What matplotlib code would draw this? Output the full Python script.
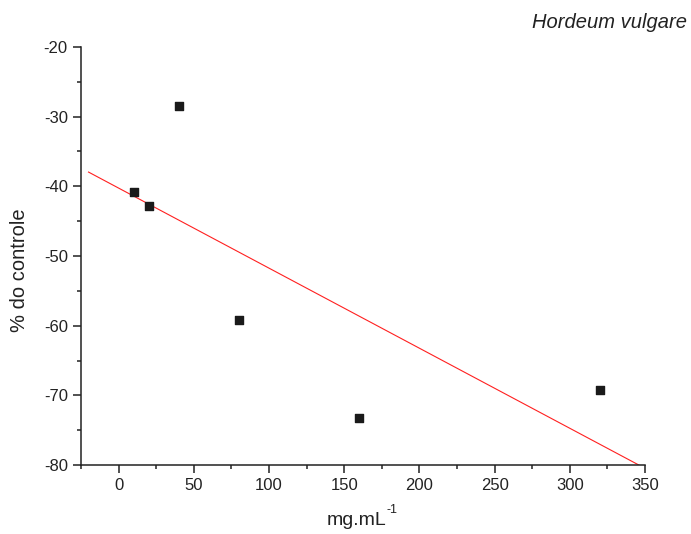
import numpy as np
import matplotlib
matplotlib.use("Agg")
import matplotlib.pyplot as plt
from matplotlib.ticker import MultipleLocator

plt.rcParams['font.family'] = ['Liberation Sans', 'DejaVu Sans']
plt.rcParams['axes.unicode_minus'] = False

conc = [10, 20, 40, 80, 160, 320]
pct_control = [-40.8, -42.8, -28.5, -59.2, -73.3, -69.3]
title = "Hordeum vulgare"
xlabel = "mg.mL"
xlabel_sup = "-1"
ylabel = "% do controle"

fig = plt.figure(figsize=(6.91, 5.34), dpi=100)
ax = fig.add_axes([0.1172, 0.1292, 0.8162, 0.7828])

slope, intercept = np.polyfit(conc, pct_control, 1)
xl = np.array([-20, 350])
ax.plot(xl, slope * xl + intercept, color='#ff2020', lw=0.8, zorder=2)
ax.scatter(conc, pct_control, marker='s', s=26, color='#1a1a1a', zorder=3)

ax.set_xlim(-25, 350)
ax.set_ylim(-80, -20)
ax.xaxis.set_major_locator(MultipleLocator(50))
ax.xaxis.set_minor_locator(MultipleLocator(25))
ax.yaxis.set_major_locator(MultipleLocator(10))
ax.yaxis.set_minor_locator(MultipleLocator(5))
for s in ['top', 'right']:
    ax.spines[s].set_visible(False)
for s in ['left', 'bottom']:
    ax.spines[s].set_linewidth(1.1)
    ax.spines[s].set_color('#222222')
ax.tick_params(which='major', direction='out', length=5.5, width=1.1, color='#222222',
               labelsize=12, labelcolor='#222222', pad=4)
ax.tick_params(which='minor', direction='out', length=3, width=1.1, color='#222222')

t = fig.text(327 / 691, 1 - 525 / 534, xlabel, ha='left', va='baseline', fontsize=14, color='#222222')
ax.annotate(xlabel_sup, xy=(1, 1), xycoords=t, xytext=(-0.5, 6), textcoords='offset points',
            ha='left', va='top', fontsize=9, color='#222222')
fig.text(20 / 691, 1 - 270 / 534, ylabel, ha='center', va='center', rotation=90, fontsize=14.5, color='#222222')
fig.text(0.994, 1 - 28 / 534, title, ha='right', va='baseline', fontsize=14.5, style='italic', color='#222222')

fig.savefig('out.png', dpi=100)
